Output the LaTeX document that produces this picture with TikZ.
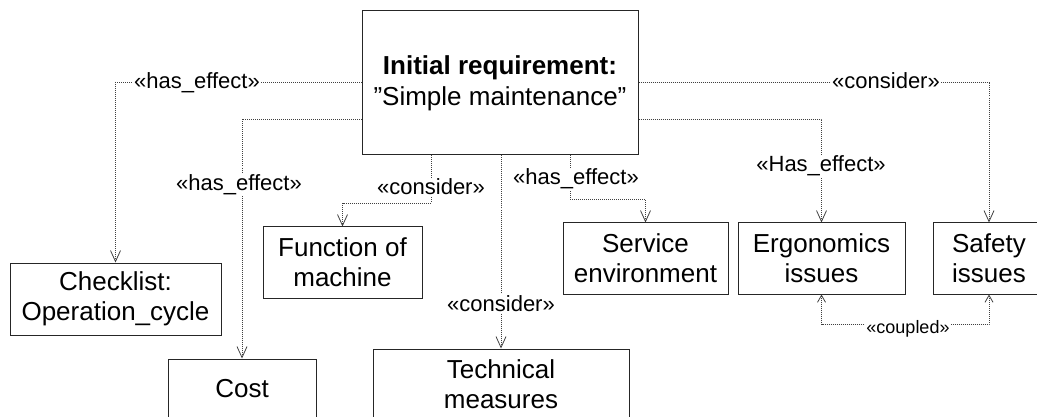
\documentclass[tikz,border=0pt]{standalone}
\usepackage{fontspec}
\setmainfont{Liberation Sans}
\usetikzlibrary{arrows.meta}
\tikzset{
  box/.style={draw=black!85, line width=1pt, fill=white, align=center, inner sep=0pt,
    font=\fontsize{26}{30}\selectfont},
  conn/.style={draw=black!75, line width=0.8pt, dash pattern=on 1pt off 1pt,
    -{Straight Barb[length=11pt,width=10pt,line width=0.8pt]}},
  coupl/.style={draw=black!75, line width=0.8pt, dash pattern=on 1pt off 1pt,
    {Straight Barb[length=7pt,width=8pt,line width=0.8pt]}-{Straight Barb[length=7pt,width=8pt,line width=0.8pt]}},
  lbl/.style={fill=white, inner sep=1.5pt, anchor=base, font=\fontsize{22}{26}\selectfont},
  slbl/.style={fill=white, inner sep=1.5pt, anchor=base, font=\fontsize{18}{22}\selectfont},
}
\begin{document}
\begin{tikzpicture}[x=1pt,y=-1pt]
\useasboundingbox (0,0) rectangle (1037,417);
\clip (0,0) rectangle (1037,417);
% boxes
\node[box, minimum width=276pt, minimum height=144pt] (main) at (500,83)
  {\textbf{Initial requirement:}\\[1pt]”Simple maintenance”};
\node[box, minimum width=211pt, minimum height=72pt] (check) at (115.5,299) {Checklist:\\Operation\_cycle};
\node[box, minimum width=148pt, minimum height=60pt] (cost) at (242,389) {Cost};
\node[box, minimum width=159pt, minimum height=71pt] (func) at (342.5,262.5) {Function of\\machine};
\node[box, minimum width=256pt, minimum height=70pt] (tech) at (501,384) {Technical\\measures};
\node[box, minimum width=165pt, minimum height=71pt] (serv) at (645.5,258.5) {Service\\environment};
\node[box, minimum width=167pt, minimum height=71pt] (ergo) at (821.5,258.5) {Ergonomics\\issues};
\node[box, minimum width=112pt, minimum height=71pt] (safe) at (989,258.5) {Safety\\issues};
% connectors
\draw[conn] ([yshift=1pt]main.west) -| (check.north);
\draw[conn] ([yshift=-36pt]main.west) -| (cost.north);
\draw[conn] ([xshift=-69pt]main.south) -- ++(0,48) -| (func.north);
\draw[conn] (main.south -| tech.north) -- (tech.north);
\draw[conn] ([xshift=70pt]main.south) -- ++(0,44) -| (serv.north);
\draw[conn] ([yshift=-36pt]main.east) -| (ergo.north);
\draw[conn] ([yshift=1pt]main.east) -| (safe.north);
\draw[coupl] (ergo.south) -- ++(0,30) -| (safe.south);
% labels
\node[lbl] (l1) at (197,89) {«has\_effect»};
\node[lbl] (l2) at (239,190) {«has\_effect»};
\node[lbl] (l3) at (431,195) {«consider»};
\node[lbl] (l4) at (501,311) {«consider»};
\node[lbl] (l5) at (576,185) {«has\_effect»};
\node[lbl] (l6) at (821,172) {«Has\_effect»};
\node[lbl] (l7) at (886,89) {«consider»};
\node[slbl] (l8) at (908,333) {«coupled»};
\end{tikzpicture}
\end{document}
